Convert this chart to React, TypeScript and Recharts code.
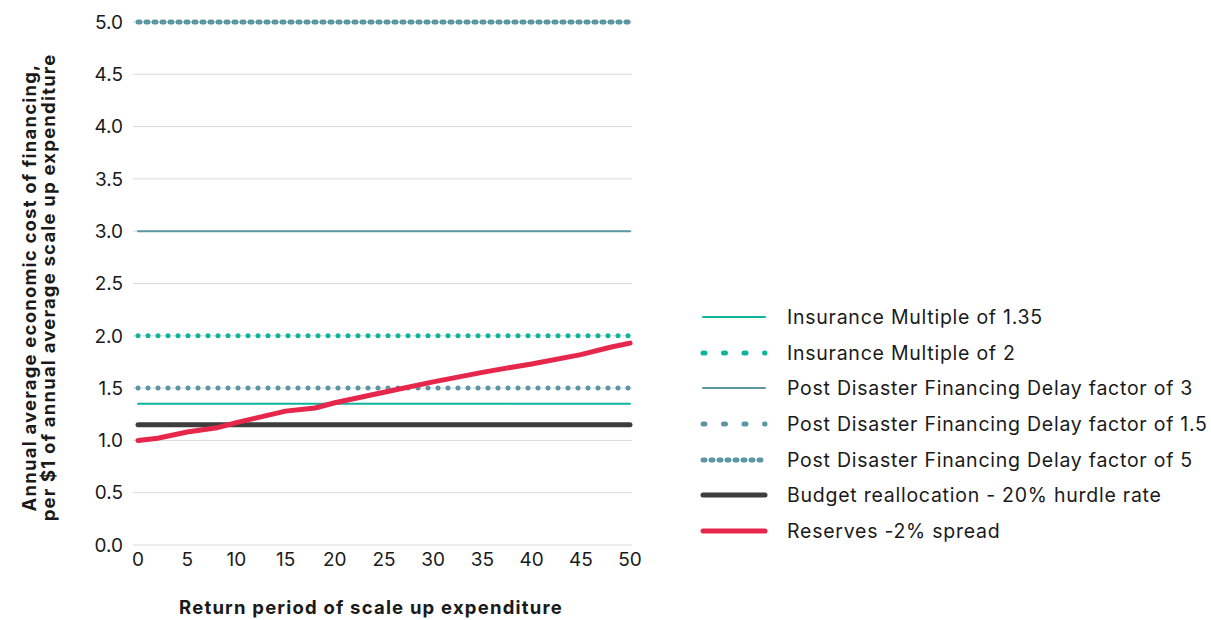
import { LineChart, Line, XAxis, YAxis, CartesianGrid, Label } from 'recharts'

// ─── values ─────────────────────────────────────────────────────────────────
const flatYears = [0, 50]
const insurance135 = [1.35, 1.35]
const insurance2 = [2, 2]
const delay3 = [3, 3]
const delay15 = [1.5, 1.5]
const delay5 = [5, 5]
const budget20 = [1.15, 1.15]

const reserveYears = [0, 2, 5, 8, 10, 15, 18, 20, 25, 30, 35, 38, 40, 45, 48, 50]
const reserves = [1.0, 1.02, 1.08, 1.12, 1.17, 1.28, 1.31, 1.36, 1.46, 1.56, 1.65, 1.7, 1.73, 1.82, 1.89, 1.93]

const xTicks = [0, 5, 10, 15, 20, 25, 30, 35, 40, 45, 50]
const yTicks = [0, 0.5, 1, 1.5, 2, 2.5, 3, 3.5, 4, 4.5, 5]

const FONT = 'Inter, "Open Sans", sans-serif'
const TEAL = '#0fb49d'
const STEEL = '#5b96a2'
const INK = '#1a1a1a'

const toRows = (xs: number[], ys: number[]) => xs.map((x, i) => ({ x, y: ys[i] }))

const series = [
  { name: 'Insurance Multiple of 1.35', xs: flatYears, ys: insurance135, color: TEAL, width: 2, dash: undefined, legendDash: undefined },
  { name: 'Insurance Multiple of 2', xs: flatYears, ys: insurance2, color: TEAL, width: 5, dash: '0 10', legendDash: '2 18.5' },
  { name: 'Post Disaster Financing Delay factor of 3', xs: flatYears, ys: delay3, color: STEEL, width: 2, dash: undefined, legendDash: undefined },
  { name: 'Post Disaster Financing Delay factor of 1.5', xs: flatYears, ys: delay15, color: STEEL, width: 5, dash: '0 10', legendDash: '2 18.5' },
  { name: 'Post Disaster Financing Delay factor of 5', xs: flatYears, ys: delay5, color: STEEL, width: 5, dash: '2 6', legendDash: '2 6' },
  { name: 'Budget reallocation - 20% hurdle rate', xs: flatYears, ys: budget20, color: '#3d3d3d', width: 5, dash: undefined, legendDash: undefined },
  { name: 'Reserves -2% spread', xs: reserveYears, ys: reserves, color: '#e6264b', width: 5, dash: undefined, legendDash: undefined },
]

function SideLegend() {
  return (
    <div
      style={{
        position: 'absolute',
        left: 699,
        top: 299,
        fontFamily: FONT,
        fontSize: 19.5,
        letterSpacing: 0.75,
        color: INK,
      }}
    >
      {series.map((s) => (
        <div key={s.name} style={{ display: 'flex', alignItems: 'center', height: 35.7 }}>
          <svg width={88} height={12} style={{ flex: 'none' }}>
            <line
              x1={4}
              x2={66}
              y1={6}
              y2={6}
              stroke={s.color}
              strokeWidth={s.width}
              strokeDasharray={s.legendDash}
              strokeLinecap="round"
            />
          </svg>
          <span style={{ whiteSpace: 'nowrap' }}>{s.name}</span>
        </div>
      ))}
    </div>
  )
}

const titleStyle = { fontFamily: FONT, fontSize: 18.5, fontWeight: 700, letterSpacing: 1.2 }

function YTitle(props: any) {
  const vb = props.viewBox || { y: 22, height: 523 }
  const cy = vb.y + vb.height / 2 + 4
  return (
    <g style={titleStyle} fill={INK}>
      <text x={29} y={cy} textAnchor="middle" dominantBaseline="central" transform={`rotate(-90 29 ${cy})`}>
        Annual average economic cost of financing,
      </text>
      <text x={48} y={cy} textAnchor="middle" dominantBaseline="central" transform={`rotate(-90 48 ${cy})`}>
        per $1 of annual average scale up expenditure
      </text>
    </g>
  )
}

function XTitle() {
  return (
    <text x={371} y={607} textAnchor="middle" dominantBaseline="central" style={titleStyle} fill={INK}>
      Return period of scale up expenditure
    </text>
  )
}

export default function App() {
  return (
    <div style={{ position: 'absolute', left: 0, top: 0, width: 1211, height: 620, background: '#fff' }}>
      <LineChart width={1211} height={620} margin={{ top: 22, right: 579, bottom: 0, left: 0 }} style={{ fontFamily: FONT }}>
        <CartesianGrid vertical={false} stroke="#d9d9d9" strokeWidth={1} />
        <XAxis
          type="number"
          dataKey="x"
          domain={[0, 50]}
          ticks={xTicks}
          padding={{ left: 5, right: 2 }}
          axisLine={false}
          tickLine={false}
          height={75}
          tick={{ fontSize: 19, fill: INK }}
          allowDuplicatedCategory={false}
        >
          <Label content={<XTitle />} />
        </XAxis>
        <YAxis
          type="number"
          domain={[0, 5]}
          ticks={yTicks}
          width={133}
          axisLine={false}
          tickLine={false}
          tickMargin={4}
          tick={{ fontSize: 19, fill: INK }}
          tickFormatter={(v: number) => v.toFixed(1)}
        >
          <Label content={<YTitle />} />
        </YAxis>
        {series.map((s) => (
          <Line
            key={s.name}
            data={toRows(s.xs, s.ys)}
            dataKey="y"
            name={s.name}
            type="linear"
            stroke={s.color}
            strokeWidth={s.width}
            strokeDasharray={s.dash}
            strokeLinecap="round"
            dot={false}
            activeDot={false}
            isAnimationActive={false}
          />
        ))}
      </LineChart>
      <SideLegend />
    </div>
  )
}
